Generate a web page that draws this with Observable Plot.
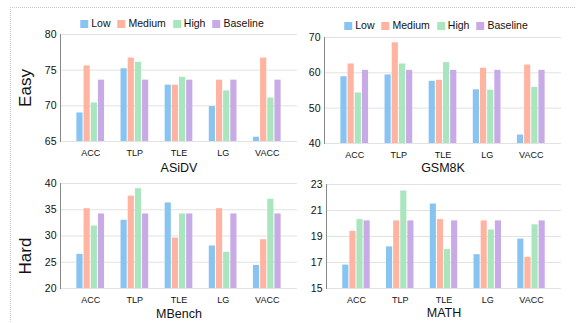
<!DOCTYPE html>
<html>
<head>
<meta charset="utf-8">
<script src="https://cdn.jsdelivr.net/npm/d3@7"></script>
<script src="https://cdn.jsdelivr.net/npm/@observablehq/plot@0.6"></script>
<style>
  html, body { margin: 0; padding: 0; background: #fff; }
  #root { position: relative; width: 576px; height: 323px; overflow: hidden; background: #fff; }
  .border { position: absolute; left: 10px; top: 7px; width: 700px; height: 400px;
            border-top: 1px dotted #c8c8c8; border-left: 1px dotted #c8c8c8; }
  .panel { position: absolute; }
  .legend { position: absolute; display: flex; align-items: center; gap: 7px;
            transform: translate(-50%, -50%); font: 10.5px "Comic Sans MS", "Liberation Sans", sans-serif; color: #111; white-space: nowrap; }
  .legend .sw { display: inline-block; width: 8px; height: 8px; margin-right: 3px; vertical-align: -1px; }
  .row { position: absolute; font: 17px "Liberation Sans", Arial, sans-serif; color: #111;
         transform: translate(-50%, -50%) rotate(-90deg); white-space: nowrap; }
</style>
</head>
<body>
<div id="root"><div class="border"></div></div>
<script>
const categories = ["ACC", "TLP", "TLE", "LG", "VACC"];
const seriesNames = ["Low", "Medium", "High", "Baseline"];
const seriesColors = ["#88c4f2", "#ffb4a2", "#a9e5bd", "#c8aae6"];
const panelTitles = ["ASiDV", "GSM8K", "MBench", "MATH"];
const rowLabels = ["Easy", "Hard"];

// ASiDV (Easy)
const asidvLow = [69.0, 75.2, 72.9, 69.9, 65.6];
const asidvMedium = [75.6, 76.7, 72.9, 73.6, 76.7];
const asidvHigh = [70.4, 76.1, 74.0, 72.1, 71.1];
const asidvBaseline = [73.6, 73.6, 73.6, 73.6, 73.6];
const asidvTicks = [65, 70, 75, 80];

// GSM8K (Easy)
const gsmLow = [58.9, 59.4, 57.6, 55.2, 42.4];
const gsmMedium = [62.5, 68.5, 57.9, 61.3, 62.2];
const gsmHigh = [54.3, 62.5, 62.9, 55.1, 55.9];
const gsmBaseline = [60.7, 60.7, 60.7, 60.7, 60.7];
const gsmTicks = [40, 50, 60, 70];

// MBench (Hard)
const mbLow = [26.5, 33.0, 36.3, 28.1, 24.4];
const mbMedium = [35.2, 37.6, 29.6, 35.2, 29.3];
const mbHigh = [31.9, 39.0, 34.2, 26.9, 37.0];
const mbBaseline = [34.2, 34.2, 34.2, 34.2, 34.2];
const mbTicks = [20, 25, 30, 35, 40];

// MATH (Hard)
const mathLow = [16.8, 18.2, 21.5, 17.6, 18.8];
const mathMedium = [19.4, 20.2, 20.3, 20.2, 17.4];
const mathHigh = [20.3, 22.5, 18.0, 19.5, 19.9];
const mathBaseline = [20.2, 20.2, 20.2, 20.2, 20.2];
const mathTicks = [15, 17, 19, 21, 23];

const root = document.getElementById("root");
const tickFont = '"Comic Sans MS", "Liberation Sans", sans-serif';
const numFont = '"Liberation Sans", Arial, sans-serif';

function panel(seriesValues, ticks, title, box) {
  const rows = [];
  seriesValues.forEach((vals, si) => vals.forEach((v, ci) =>
    rows.push({cat: categories[ci], series: seriesNames[si], v})));
  const lo = ticks[0], hi = ticks[ticks.length - 1];
  const pIn = 0.35, pOut = 0.36;
  const bw = d3.scaleBand().domain(categories)
    .range([box.ml, box.w - box.mr]).paddingInner(pIn).paddingOuter(pOut).bandwidth();
  const slot = bw / 4;
  const bars = seriesNames.map((s, i) => Plot.barY(rows.filter(d => d.series === s), {
    x: "cat", y1: () => lo, y2: "v", fill: seriesColors[i],
    insetLeft: i * slot + 0.5, insetRight: (3 - i) * slot + 0.5
  }));
  const chart = Plot.plot({
    width: box.w, height: box.h,
    marginLeft: box.ml, marginRight: box.mr, marginTop: box.mt, marginBottom: box.mb,
    style: {background: "transparent", overflow: "visible"},
    x: {domain: categories, paddingInner: pIn, paddingOuter: pOut, round: false},
    y: {domain: [lo, hi]},
    marks: [
      Plot.gridY(ticks, {stroke: "#e2e2e2", strokeOpacity: 1}),
      ...bars,
      Plot.frame({anchor: "left", stroke: "#888"}),
      Plot.axisY(ticks, {tickSize: 0, tickPadding: 4, fontSize: 10.5, fontFamily: numFont, fill: "#111", label: null}),
      Plot.axisX({tickSize: 0, tickPadding: 8, fontSize: 9, fontFamily: tickFont, fill: "#111", label: null}),
      Plot.text([title], {text: d => d, frameAnchor: "bottom", dy: box.tdy, fontSize: 12.5, fontFamily: tickFont, fill: "#111"})
    ]
  });
  chart.classList.add("panel");
  chart.style.left = box.x + "px";
  chart.style.top = box.y + "px";
  root.appendChild(chart);
}

panel([asidvLow, asidvMedium, asidvHigh, asidvBaseline], asidvTicks, panelTitles[0],
  {x: 0, y: 0, w: 300, h: 180, ml: 60, mr: 3, mt: 34, mb: 39, tdy: 30});
panel([gsmLow, gsmMedium, gsmHigh, gsmBaseline], gsmTicks, panelTitles[1],
  {x: 300, y: 0, w: 276, h: 180, ml: 24, mr: 15, mt: 37, mb: 37, tdy: 28});
panel([mbLow, mbMedium, mbHigh, mbBaseline], mbTicks, panelTitles[2],
  {x: 0, y: 180, w: 300, h: 143, ml: 60, mr: 3, mt: 3, mb: 35, tdy: 29});
panel([mathLow, mathMedium, mathHigh, mathBaseline], mathTicks, panelTitles[3],
  {x: 300, y: 180, w: 276, h: 143, ml: 26, mr: 15, mt: 4, mb: 35, tdy: 28});

function legend(cx, cy) {
  const div = document.createElement("div");
  div.className = "legend";
  div.style.left = cx + "px";
  div.style.top = cy + "px";
  seriesNames.forEach((s, i) => {
    const item = document.createElement("span");
    const sw = document.createElement("span");
    sw.className = "sw";
    sw.style.background = seriesColors[i];
    item.appendChild(sw);
    item.appendChild(document.createTextNode(s));
    div.appendChild(item);
  });
  root.appendChild(div);
}
legend(172, 23);
legend(436, 25);

function rowLabel(text, cx, cy) {
  const div = document.createElement("div");
  div.className = "row";
  div.textContent = text;
  div.style.left = cx + "px";
  div.style.top = cy + "px";
  root.appendChild(div);
}
rowLabel(rowLabels[0], 26, 88);
rowLabel(rowLabels[1], 26, 256);
</script>
</body>
</html>
